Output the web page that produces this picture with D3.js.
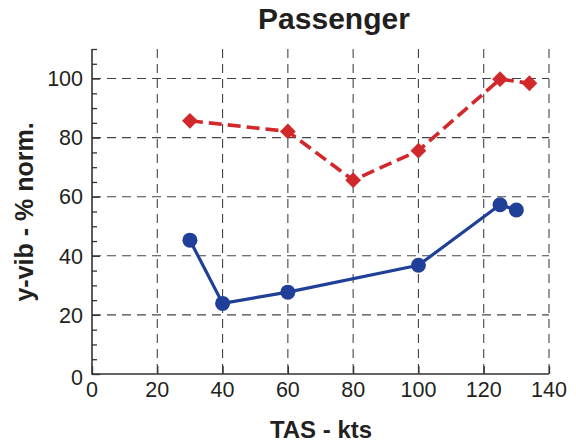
<!DOCTYPE html>
<html>
<head>
<meta charset="utf-8">
<script src="https://cdn.jsdelivr.net/npm/d3@7"></script>
<style>
  html, body { margin: 0; padding: 0; background: #fff; }
  svg { display: block; font-family: "Liberation Sans", Arial, Helvetica, sans-serif; }
</style>
</head>
<body>
<svg id="chart" width="576" height="445"></svg>
<script>
// Airspeed (kts) and normalised lateral vibration (%) per series
const redSpeed   = [30, 60, 80, 100, 125, 134];
const redVib     = [85.7, 82.1, 65.6, 75.6, 99.8, 98.4];
const blueSpeed  = [30, 40, 60, 100, 125, 130];
const blueVib    = [45.3, 23.9, 27.7, 36.8, 57.3, 55.5];

const xTicks = [0, 20, 40, 60, 80, 100, 120, 140];
const yTicks = [0, 20, 40, 60, 80, 100];
const yMinor = d3.range(0, 111, 5);

const titleText = "Passenger";
const xLabel = "TAS - kts";
const yLabel = "y-vib - % norm.";

const ink = "#231f20";
const red = "#d1282b";
const blue = "#1f3f98";

const svg = d3.select("#chart");
const plotLeft = 92, plotRight = 549, plotTop = 49, plotBottom = 374;

const x = d3.scaleLinear().domain([0, 140]).range([plotLeft, plotRight]);
const y = d3.scaleLinear().domain([0, 110]).range([plotBottom, plotTop]);

// dashed grid
const grid = svg.append("g").attr("stroke", "#444").attr("stroke-width", 1.1)
  .attr("stroke-dasharray", "9,6");
grid.selectAll("line.v").data(xTicks.filter(d => d > 0)).join("line")
  .attr("class", "v")
  .attr("x1", d => x(d)).attr("x2", d => x(d))
  .attr("y1", y(110)).attr("y2", y(0));
grid.selectAll("line.h").data(yTicks.filter(d => d > 0)).join("line")
  .attr("class", "h")
  .attr("x1", x(0)).attr("x2", x(140))
  .attr("y1", d => y(d)).attr("y2", d => y(d));

// y axis: inward ticks, major and minor
const yAxisMinor = d3.axisRight(y).tickValues(yMinor.filter(d => d % 20 !== 0)).tickSize(5).tickFormat("");
const yAxisMajor = d3.axisRight(y).tickValues(yTicks).tickSize(8).tickFormat("");
svg.append("g").attr("transform", `translate(${plotLeft},0)`).call(yAxisMinor)
  .call(g => g.select(".domain").remove());
svg.append("g").attr("transform", `translate(${plotLeft},0)`).call(yAxisMajor)
  .call(g => g.select(".domain").remove());

// x axis: upward ticks
const xAxis = d3.axisTop(x).tickValues(xTicks).tickSize(8).tickFormat("");
svg.append("g").attr("transform", `translate(0,${plotBottom})`).call(xAxis)
  .call(g => g.select(".domain").remove());
svg.selectAll(".tick line").attr("stroke", "#333").attr("stroke-width", 1.3);

// axis lines
svg.append("path")
  .attr("d", `M${plotLeft},${y(110)}V${plotBottom}H${x(140)}`)
  .attr("fill", "none").attr("stroke", "#333").attr("stroke-width", 1.6);

// tick labels
svg.append("g").selectAll("text").data(yTicks).join("text")
  .attr("x", plotLeft - 9).attr("y", d => y(d) + (d === 0 ? 3 : 0))
  .attr("dy", "0.36em").attr("text-anchor", "end")
  .attr("font-size", 21.5).attr("fill", ink).text(d => d);
svg.append("g").selectAll("text").data(xTicks).join("text")
  .attr("x", d => x(d)).attr("y", 397)
  .attr("text-anchor", "middle")
  .attr("font-size", 21.5).attr("fill", ink).text(d => d);

// titles
svg.append("text").attr("x", 334).attr("y", 29).attr("text-anchor", "middle")
  .attr("font-size", 30).attr("font-weight", "bold").attr("fill", ink).text(titleText);
svg.append("text").attr("x", 321).attr("y", 438).attr("text-anchor", "middle")
  .attr("font-size", 24).attr("font-weight", "bold").attr("fill", ink).text(xLabel);
svg.append("text").attr("transform", "translate(33,212) rotate(-90)")
  .attr("text-anchor", "middle")
  .attr("font-size", 25).attr("font-weight", "bold").attr("fill", ink).text(yLabel);

// series
const line = d3.line().x(d => x(d[0])).y(d => y(d[1]));
const redPts = d3.zip(redSpeed, redVib);
const bluePts = d3.zip(blueSpeed, blueVib);

svg.append("path").datum(bluePts).attr("d", line)
  .attr("fill", "none").attr("stroke", blue).attr("stroke-width", 3.2)
  .attr("stroke-linejoin", "round");
svg.append("g").selectAll("circle").data(bluePts).join("circle")
  .attr("cx", d => x(d[0])).attr("cy", d => y(d[1])).attr("r", 7.5)
  .attr("fill", blue);

svg.append("path").datum(redPts).attr("d", line)
  .attr("fill", "none").attr("stroke", red).attr("stroke-width", 3.6)
  .attr("stroke-dasharray", "13,6");
svg.append("g").selectAll("path").data(redPts).join("path")
  .attr("transform", d => `translate(${x(d[0])},${y(d[1])}) rotate(45)`)
  .attr("d", d3.symbol().type(d3.symbolSquare).size(125))
  .attr("fill", red);
</script>
</body>
</html>
